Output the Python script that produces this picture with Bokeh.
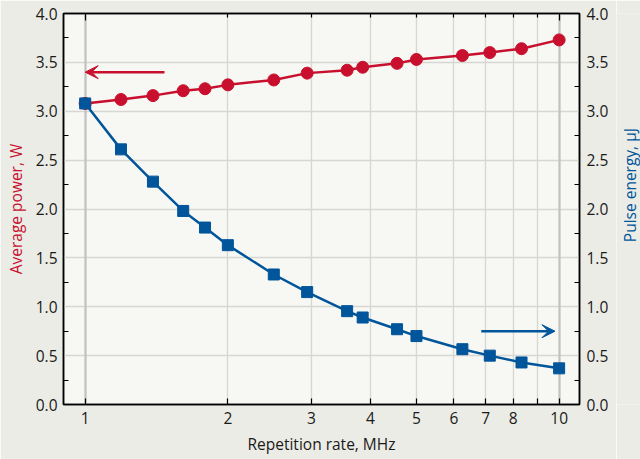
import math
from bokeh.plotting import figure
from bokeh.layouts import row
from bokeh.models import (Range1d, LinearAxis, LogAxis, FixedTicker, Grid, Arrow, VeeHead,
                          PrintfTickFormatter, CustomLabelingPolicy)
from bokeh.core.properties import value
from bokeh.embed import file_html
from bokeh.resources import INLINE

# ---- data ----
rate_mhz = [1.0, 1.19, 1.39, 1.61, 1.79, 2.0, 2.5, 2.94, 3.57, 3.85, 4.55, 5.0, 6.25, 7.14, 8.33, 10.0]
avg_power_w = [3.08, 3.12, 3.16, 3.21, 3.23, 3.27, 3.32, 3.39, 3.42, 3.45, 3.49, 3.53, 3.57, 3.60, 3.64, 3.73]
pulse_energy_uj = [3.08, 2.61, 2.28, 1.98, 1.81, 1.63, 1.33, 1.15, 0.955, 0.89, 0.77, 0.70, 0.566, 0.50, 0.43, 0.37]
x_ticks = [1, 2, 3, 4, 5, 6, 7, 8, 9, 10]
x_tick_labels = ["1", "2", "3", "4", "5", "6", "7", "8", "", "10"]
x_decades = [1, 10]
x_minor = [2, 3, 4, 5, 6, 7, 8, 9]
y_ticks = [0.0, 0.5, 1.0, 1.5, 2.0, 2.5, 3.0, 3.5, 4.0]
y_minor = [0.25, 0.75, 1.25, 1.75, 2.25, 2.75, 3.25, 3.75]
# arrows (data coords): [x_start, x_end, y]
red_arrow = [1.47, 1.0, 3.40]
blue_arrow = [6.85, 9.8, 0.75]
right_title = "Pulse energy, μJ"

RED = "#C8102E"
BLUE = "#00559B"
OUTER = "#ECECE6"
INNER = "#F7F7F3"
FONT = "Open Sans"
FS = "15.5px"

p = figure(width=616, height=459, x_axis_type="log",
           x_range=Range1d(0.9, 11.04), y_range=Range1d(0, 4),
           output_backend="svg", toolbar_location=None,
           min_border_left=63, min_border_right=37, min_border_top=13, min_border_bottom=55)
p.extra_y_ranges = {"y2": Range1d(0, 4)}
p.background_fill_color = INNER
p.border_fill_color = OUTER
p.outline_line_color = "black"
p.outline_line_width = 1.5

# grids
p.xgrid.ticker = FixedTicker(ticks=x_ticks)
p.ygrid.ticker = FixedTicker(ticks=y_ticks)
p.xgrid.grid_line_color = "#D6D6D2"
p.ygrid.grid_line_color = "#D6D6D2"
p.xgrid.grid_line_width = 1.3
p.ygrid.grid_line_width = 1.3
p.add_layout(Grid(dimension=0, ticker=FixedTicker(ticks=x_decades),
                  grid_line_color="#C2C2BF", grid_line_width=2.2))

overrides = {t: l for t, l in zip(x_ticks, x_tick_labels)}

def style_axis(ax):
    ax.axis_line_color = "black"
    ax.axis_line_width = 1.5
    ax.major_tick_line_color = "black"
    ax.minor_tick_line_color = "black"
    ax.major_tick_line_width = 1.2
    ax.minor_tick_line_width = 1.2
    ax.major_label_text_font = FONT
    ax.major_label_text_font_size = FS
    ax.major_label_text_color = "#1a1a1a"
    ax.axis_label_text_font = FONT
    ax.axis_label_text_font_size = FS
    ax.axis_label_text_font_style = "normal"

xa = p.xaxis[0]
xa.ticker = FixedTicker(ticks=x_ticks)
xa.major_label_overrides = overrides
style_axis(xa)
xa.major_tick_in = 6
xa.major_tick_out = 0
xa.axis_label = "Repetition rate, MHz"
xa.axis_label_text_color = "#1a1a1a"
xa.major_label_standoff = 7
xa.axis_label_standoff = 6

top = LogAxis(ticker=FixedTicker(ticks=x_decades, minor_ticks=x_minor))
style_axis(top)
top.major_label_policy = CustomLabelingPolicy(code="for (const i of indices) indices.unset(i); return indices")
top.major_label_text_font_size = "1px"
top.major_tick_in = 7
top.major_tick_out = 0
top.minor_tick_in = 4
top.minor_tick_out = 0
top.major_label_standoff = 0
top.axis_label_standoff = 0
p.add_layout(top, "above")

ya = p.yaxis[0]
ya.ticker = FixedTicker(ticks=y_ticks, minor_ticks=y_minor)
ya.formatter = PrintfTickFormatter(format="%.1f")
style_axis(ya)
ya.major_tick_in = 0
ya.major_tick_out = 0
ya.minor_tick_in = 5
ya.minor_tick_out = 0
ya.axis_label = "Average power, W"
ya.axis_label_text_color = RED
ya.major_label_standoff = 6
ya.axis_label_standoff = 6

ya2 = LinearAxis(y_range_name="y2", ticker=FixedTicker(ticks=y_ticks, minor_ticks=y_minor),
                 formatter=PrintfTickFormatter(format="%.1f"))
style_axis(ya2)
ya2.major_tick_in = 0
ya2.major_tick_out = 0
ya2.minor_tick_in = 5
ya2.minor_tick_out = 0
ya2.major_label_standoff = 7
p.add_layout(ya2, "right")

# series
p.line(rate_mhz, avg_power_w, line_color=RED, line_width=2.5)
p.scatter(rate_mhz, avg_power_w, marker="circle", size=12, fill_color=RED, line_color=RED)
p.line(rate_mhz, pulse_energy_uj, line_color=BLUE, line_width=2.5, y_range_name="y2")
p.scatter(rate_mhz, pulse_energy_uj, marker="square", size=11, fill_color=BLUE, line_color=BLUE,
          y_range_name="y2")

p.add_layout(Arrow(end=VeeHead(size=13, fill_color=RED, line_color=RED),
                   x_start=red_arrow[0], x_end=red_arrow[1], y_start=red_arrow[2], y_end=red_arrow[2],
                   line_color=RED, line_width=2.5))
p.add_layout(Arrow(end=VeeHead(size=13, fill_color=BLUE, line_color=BLUE),
                   x_start=blue_arrow[0], x_end=blue_arrow[1], y_start=blue_arrow[2], y_end=blue_arrow[2],
                   line_color=BLUE, line_width=2.5, y_range_name="y2"))

# narrow side panel holding the right-hand axis title (reads bottom to top)
side = figure(width=24, height=459, x_range=Range1d(0, 1), y_range=Range1d(0, 1),
              output_backend="svg", toolbar_location=None, min_border=0)
side.axis.visible = False
side.grid.visible = False
side.outline_line_color = None
side.background_fill_color = OUTER
side.border_fill_color = OUTER
side.text(x=[0.58], y=[0.561], text=[right_title], angle=math.pi / 2,
          text_align="center", text_baseline="middle",
          text_font=value(FONT), text_font_size=FS, text_color=BLUE)

layout = row(p, side, spacing=0)
html = file_html(layout, INLINE)
html = html.replace("<body>", '<body style="background-color:%s;">' % OUTER, 1)
open("out.html", "w").write(html)
